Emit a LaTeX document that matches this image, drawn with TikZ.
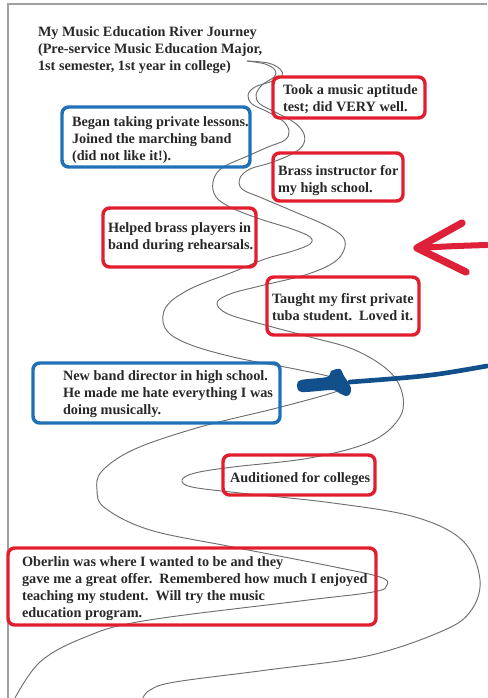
\documentclass[tikz,border=0pt]{standalone}
\usepackage{fontspec}
\setmainfont{Liberation Serif}
\usetikzlibrary{fit}
\definecolor{boxred}{RGB}{226,30,46}
\definecolor{boxblue}{RGB}{32,112,184}
\definecolor{inkblue}{RGB}{18,80,140}
\definecolor{inkred}{RGB}{222,32,56}
\definecolor{bank}{RGB}{110,110,110}
\definecolor{pageframe}{RGB}{160,160,160}
\definecolor{ink}{RGB}{40,40,40}
\begin{document}
\begin{tikzpicture}[x=0.75pt,y=-0.75pt,
  every node/.style={inner sep=0pt, outer sep=0pt},
  note/.style={anchor=north west, align=left,
    font=\fontsize{10.7}{12.75}\selectfont\bfseries, text=ink},
  redbox/.style={draw=boxred, line width=2.6pt, rounded corners=5pt},
  bluebox/.style={draw=boxblue, line width=2.6pt, rounded corners=5pt},
  riverbank/.style={draw=bank, line width=0.7pt},
  marker/.style={line width=#1, line cap=round, line join=round},
]
\useasboundingbox (0,0) rectangle (487,698);

% page frame
\coordinate (fTL) at (8,4);
\coordinate (fTR) at (487,4);
\coordinate (fBL) at (8,698);
\draw[pageframe, line width=0.8pt] (fTR) -- (fTL) -- (fBL);

% the two banks of the river
\draw[riverbank] plot[smooth, tension=0.6] coordinates {
  (247,61) (268,63) (280,69) (282,76) (270,82) (255,87) (248,95) (252,104)
  (268,112) (283,121) (289,131) (285,140) (268,147) (250,155) (222,168)
  (213,182) (216,197) (232,208) (260,219) (292,229) (310,237) (310,244)
  (293,251) (265,259) (233,272) (190,289) (166,307) (165,328) (186,343)
  (233,357) (295,369) (335,378) (345,385) (335,392) (277,408) (200,427)
  (135,449) (102,471) (97,490) (105,508) (150,530) (233,547) (330,566)
  (380,577) (387,585) (373,592) (300,601) (143,621) (83,638) (40,662)
  (15,698)};
\draw[riverbank] plot[smooth, tension=0.6] coordinates {
  (247,61) (265,64) (275,70) (274,77) (262,85) (256,95) (260,104) (277,113)
  (295,123) (304,134) (303,145) (292,154) (270,163) (250,169) (240,178)
  (242,189) (262,198) (295,212) (325,225) (343,237) (344,250) (333,263)
  (305,275) (260,286) (230,294) (217,303) (228,314) (265,325) (310,337)
  (355,350) (390,372) (403,397) (398,420) (370,442) (310,458) (233,467)
  (195,473) (182,480) (192,487) (240,493) (333,503) (415,517) (463,541)
  (480,580) (470,612) (440,632) (367,656) (267,670) (175,682) (150,690)
  (143,698)};

% milestone boxes
\node[redbox,  fit={(273,77)(425,118)}]  (took)     {};
\node[bluebox, fit={(62,107)(250,167)}]  (began)    {};
\node[redbox,  fit={(273,153)(403,201)}] (brass)    {};
\node[redbox,  fit={(103,208)(256,267)}] (helped)   {};
\node[redbox,  fit={(267,277)(419,335)}] (taught)   {};
\node[bluebox, fit={(33,363)(280,423)}]  (newdir)   {};
\node[redbox,  fit={(223,455)(375,495)}] (audition) {};
\node[redbox,  fit={(8,548)(376,625)}]   (oberlin)  {};

% texts
\node[note] (title) at (38,27) {My Music Education River Journey\\(Pre-service Music Education Major,\\1st semester, 1st year in college)};
\node[note] (tookT) at (283,85) {Took a music aptitude\\test; did VERY well.};
\node[note] (beganT) at (72,117) {Began taking private lessons.\\Joined the marching band\\(did not like it!).};
\node[note] (brassT) at (278,165) {Brass instructor for\\my high school.};
\node[note] (helpedT) at (108,223) {Helped brass players in\\band during rehearsals.};
\node[note] (taughtT) at (272,293) {Taught my first private\\tuba student.\ \ Loved it.};
\node[note] (newdirT) at (63,371) {New band director in high school.\\He made me hate everything I was\\doing musically.};
\node[note] (auditionT) at (230,472) {Auditioned for colleges};
\node[note] (oberlinT) at (22,557) {Oberlin was where I wanted to be and they\\gave me a great offer.\ \ Remembered how much I enjoyed\\teaching my student.\ \ Will try the music\\education program.};

% red hand-drawn arrow
\coordinate (redTip) at (417,248);
\coordinate (redTail) at (487,245);
\coordinate (redUp) at (462,223);
\coordinate (redDown) at (466,272);
\draw[inkred, marker=4.5pt] (redTail) .. controls (455,246) .. (redTip);
\draw[inkred, marker=5.5pt] (redUp) -- (redTip) -- (redDown);

% blue hand-drawn arrow
\coordinate (blueTail) at (487,366);
\coordinate (blueEnd) at (350,382);
\draw[inkblue, marker=3.5pt] (blueTail) .. controls (430,376) .. (blueEnd);
\fill[inkblue] plot[smooth cycle, tension=0.5] coordinates {
  (297,386) (301,380) (327,377) (331,371) (340,369) (344,376) (348,382)
  (351,388) (350,394) (346,396) (339,393) (332,390) (302,392)};
\end{tikzpicture}
\end{document}
